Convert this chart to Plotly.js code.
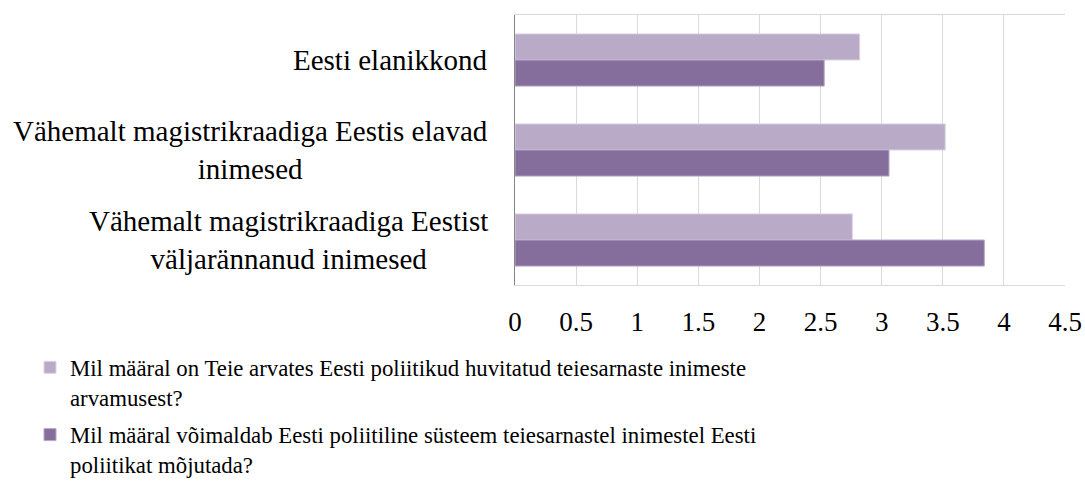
<!DOCTYPE html>
<html>
<head>
<meta charset="utf-8">
<script src="https://cdn.plot.ly/plotly-3.0.1.min.js"></script>
<style>html,body{margin:0;padding:0;background:#fff;}#chart{width:1085px;height:481px;}</style>
</head>
<body>
<div id="chart"></div>
<script>
// Data
var categories = ["Eesti elanikkond", "Vähemalt magistrikraadiga Eestis elavad inimesed", "Vähemalt magistrikraadiga Eestist väljarännanud inimesed"];
var categoryLabels = ["Eesti elanikkond", "Vähemalt magistrikraadiga Eestis elavad<br>inimesed", "Vähemalt magistrikraadiga Eestist<br>väljarännanud inimesed"];
var seriesNames = ["Mil määral on Teie arvates Eesti poliitikud huvitatud teiesarnaste inimeste<br>arvamusest?", "Mil määral võimaldab Eesti poliitiline süsteem teiesarnastel inimestel Eesti<br>poliitikat mõjutada?"];
var interestValues = [2.82, 3.52, 2.76];
var influenceValues = [2.53, 3.06, 3.84];
var tickValues = [0, 0.5, 1, 1.5, 2, 2.5, 3, 3.5, 4, 4.5];
var tickLabels = ["0", "0.5", "1", "1.5", "2", "2.5", "3", "3.5", "4", "4.5"];

var FONT = "Liberation Serif, Times New Roman, serif";

var traces = [
  {type: "bar", orientation: "h", name: seriesNames[0], legendgroup: "g1", x: interestValues, y: categories,
   marker: {color: "#B9ABC8", line: {color: "#DCD3E4", width: 1}}, hoverinfo: "x"},
  {type: "bar", orientation: "h", name: seriesNames[1], legendgroup: "g2", x: influenceValues, y: categories,
   marker: {color: "#856E9C", line: {color: "#B8A9C8", width: 1}}, hoverinfo: "x"}
];

var annotations = categories.map(function (c, i) {
  return {xref: "paper", yref: "y", x: 0, y: c, xanchor: "right", yanchor: "middle",
    xshift: -25, align: "center", showarrow: false, text: categoryLabels[i],
    font: {family: FONT, size: 29, color: "#000"}};
});

var layout = {
  width: 1085, height: 481,
  margin: {l: 515, r: 20, t: 15, b: 196, pad: 0, autoexpand: false},
  paper_bgcolor: "#fff", plot_bgcolor: "#fff",
  barmode: "group", bargap: 0.42, bargroupgap: 0,
  font: {family: FONT, color: "#000", size: 26},
  xaxis: {range: [0, 4.5], tickmode: "array", tickvals: tickValues, ticktext: tickLabels,
    showgrid: true, gridcolor: "#D9D9D9", gridwidth: 1, zeroline: false,
    showline: true, linecolor: "#D9D9D9", linewidth: 1, mirror: true,
    ticks: "", ticklabelstandoff: 13, tickfont: {family: FONT, size: 27, color: "#000"}, fixedrange: true},
  yaxis: {autorange: "reversed", showticklabels: false, ticks: "", showgrid: false, zeroline: false,
    showline: true, linecolor: "#868686", linewidth: 1.5, fixedrange: true},
  showlegend: true,
  legend: {xref: "container", yref: "container", x: 30 / 1085, y: 1 - 346 / 481,
    xanchor: "left", yanchor: "top", orientation: "v", traceorder: "grouped", valign: "top",
    font: {family: FONT, size: 22.8, color: "#000"}, bgcolor: "rgba(0,0,0,0)", tracegroupgap: 5},
  annotations: annotations
};

Plotly.newPlot("chart", traces, layout, {displayModeBar: false, staticPlot: true});
</script>
</body>
</html>
